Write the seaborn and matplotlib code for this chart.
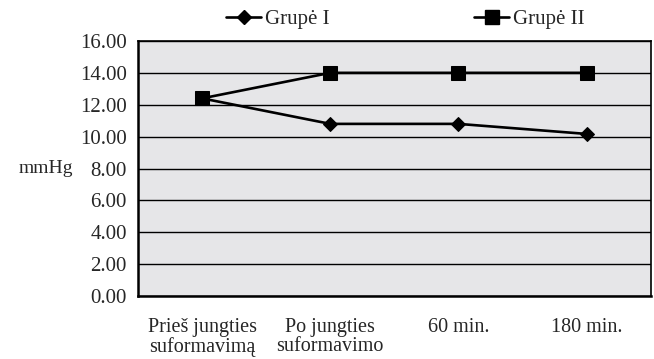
import matplotlib.pyplot as plt
import seaborn as sns
import pandas as pd
import numpy as np
from matplotlib.lines import Line2D

categories = ["Prieš jungties\nsuformavimą", "Po jungties\nsuformavimo", "60 min.", "180 min."]
grupe_1 = [12.4, 10.8, 10.8, 10.17]
grupe_2 = [12.4, 14.0, 14.0, 14.0]
series_names = ["Grupė I", "Grupė II"]
y_ticks = [0, 2, 4, 6, 8, 10, 12, 14, 16]

sns.set_style("white")
plt.rcParams['font.family'] = ['Liberation Serif', 'DejaVu Serif']

pos = np.arange(len(categories))
data = pd.DataFrame({
    "x": np.concatenate([pos, pos]),
    "value": grupe_1 + grupe_2,
    "group": [series_names[0]] * len(pos) + [series_names[1]] * len(pos),
})

fig = plt.figure(figsize=(6.54, 3.59), dpi=100)
ax = fig.add_axes([0.211, 0.175, 0.784, 0.711])
ax.set_facecolor("#e6e6e8")

sns.lineplot(data=data, x="x", y="value", hue="group", style="group",
             markers={"Grupė I": "D", "Grupė II": "s"}, dashes=False,
             palette={"Grupė I": "black", "Grupė II": "black"},
             linewidth=1.9, ax=ax, legend=False, zorder=3)
for line, ms in zip(ax.lines, [7, 10]):
    line.set_markersize(ms)
    line.set_markeredgecolor("black")
    line.set_markerfacecolor("black")

ax.set_xlim(-0.5, len(categories) - 0.5)
ax.set_ylim(0, 16)
ax.set_yticks(y_ticks)
ax.set_yticklabels([f"{v:.2f}" for v in y_ticks], fontsize=15)
ax.set_xticks(pos)
ax.set_xticklabels(categories, fontsize=14.5, linespacing=0.95)
ax.set_xticks(np.arange(-0.5, len(categories)), minor=True)
ax.tick_params(axis="x", which="major", length=0, pad=16)
ax.tick_params(axis="x", which="minor", length=4, width=0.8, color="black", direction="out")
ax.tick_params(axis="y", length=5, width=1, color="black", direction="out", pad=3)
ax.yaxis.grid(True, color="black", linewidth=1)
ax.xaxis.grid(False)
for s in ax.spines.values():
    s.set_color("black")
    s.set_linewidth(1.2)
ax.spines["left"].set_linewidth(1.8)
ax.spines["bottom"].set_linewidth(1.8)

ax.set_xlabel("")
ax.set_ylabel("mmHg", fontsize=14, rotation=0, va="center")
ax.yaxis.set_label_coords(-0.18, 0.5)

handles = [Line2D([], [], color="black", marker="D", markersize=7, linewidth=1.9),
           Line2D([], [], color="black", marker="s", markersize=10, linewidth=1.9)]
fig.legend(handles, series_names, loc="upper center", bbox_to_anchor=(0.62, 1.025),
           ncol=2, frameon=False, fontsize=15, columnspacing=6.9, handlelength=1.7,
           handletextpad=0.2)

fig.savefig("out.png", dpi=100)
